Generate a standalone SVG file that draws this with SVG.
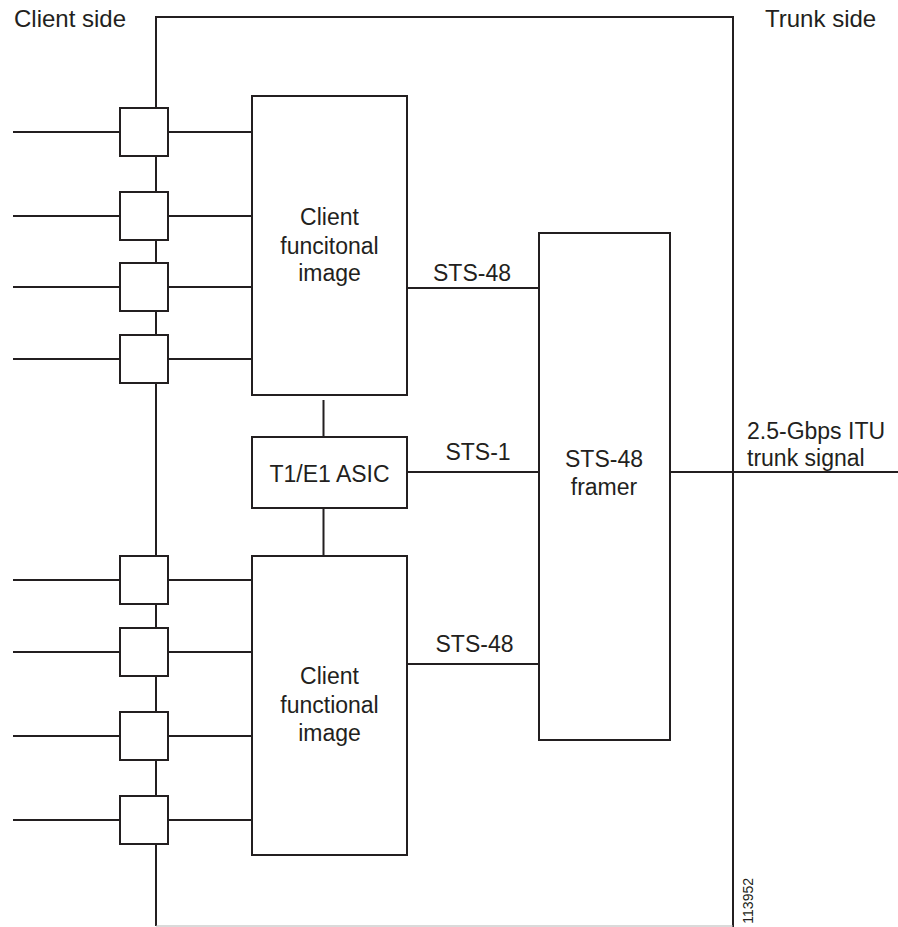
<svg xmlns="http://www.w3.org/2000/svg" width="898" height="927" viewBox="0 0 898 927">
<style>
.ln{stroke:#231f20;stroke-width:2;fill:none}
.bx{stroke:#231f20;stroke-width:2;fill:#fff}
text{font-family:"Liberation Sans",Arial,sans-serif;font-size:23px;fill:#231f20}
.c{text-anchor:middle}
</style>
<rect width="898" height="927" fill="#fff"/>
<g id="connectors">
<path class="ln" d="M156,926 V17 H733 V927"/>
<line x1="156" y1="926" x2="733" y2="926" stroke="#b5b5b5" stroke-width="1"/>
<path class="ln" d="M13,132H252 M13,216H252 M13,287H252 M13,359H252"/>
<path class="ln" d="M13,580H252 M13,652H252 M13,736H252 M13,820H252"/>
<path class="ln" d="M323.5,400V437 M323.5,508V556"/>
<path class="ln" d="M407,288H539 M407,472H539 M407,664H539 M670,472H898"/>
</g>
<g id="port1"><rect class="bx" x="120" y="108" width="48" height="48"/></g>
<g id="port2"><rect class="bx" x="120" y="192" width="48" height="48"/></g>
<g id="port3"><rect class="bx" x="120" y="263" width="48" height="48"/></g>
<g id="port4"><rect class="bx" x="120" y="335" width="48" height="48"/></g>
<g id="port5"><rect class="bx" x="120" y="556" width="48" height="48"/></g>
<g id="port6"><rect class="bx" x="120" y="628" width="48" height="48"/></g>
<g id="port7"><rect class="bx" x="120" y="712" width="48" height="48"/></g>
<g id="port8"><rect class="bx" x="120" y="796" width="48" height="48"/></g>
<g id="client-top">
<rect class="bx" x="252" y="96" width="155" height="299"/>
<text class="c" x="329.5" y="225">Client</text>
<text class="c" x="329.5" y="253.5">funcitonal</text>
<text class="c" x="329.5" y="281">image</text>
</g>
<g id="asic">
<rect class="bx" x="252" y="437" width="155" height="71"/>
<text class="c" x="329.5" y="482">T1/E1 ASIC</text>
</g>
<g id="client-bottom">
<rect class="bx" x="252" y="556" width="155" height="299"/>
<text class="c" x="329.5" y="684">Client</text>
<text class="c" x="329.5" y="713">functional</text>
<text class="c" x="329.5" y="741">image</text>
</g>
<g id="framer">
<rect class="bx" x="539" y="233" width="131" height="507"/>
<text class="c" x="604" y="467">STS-48</text>
<text class="c" x="604" y="495">framer</text>
</g>
<g id="labels">
<text x="14" y="27" style="font-size:24px">Client side</text>
<text x="765" y="27" style="font-size:24px">Trunk side</text>
<text class="c" x="472" y="281">STS-48</text>
<text class="c" x="478" y="460">STS-1</text>
<text class="c" x="474.5" y="652">STS-48</text>
<text x="747" y="439">2.5-Gbps ITU</text>
<text x="747" y="466">trunk signal</text>
<text transform="translate(753,878) rotate(-90)" style="font-size:14px;text-anchor:end">113952</text>
</g>
</svg>
